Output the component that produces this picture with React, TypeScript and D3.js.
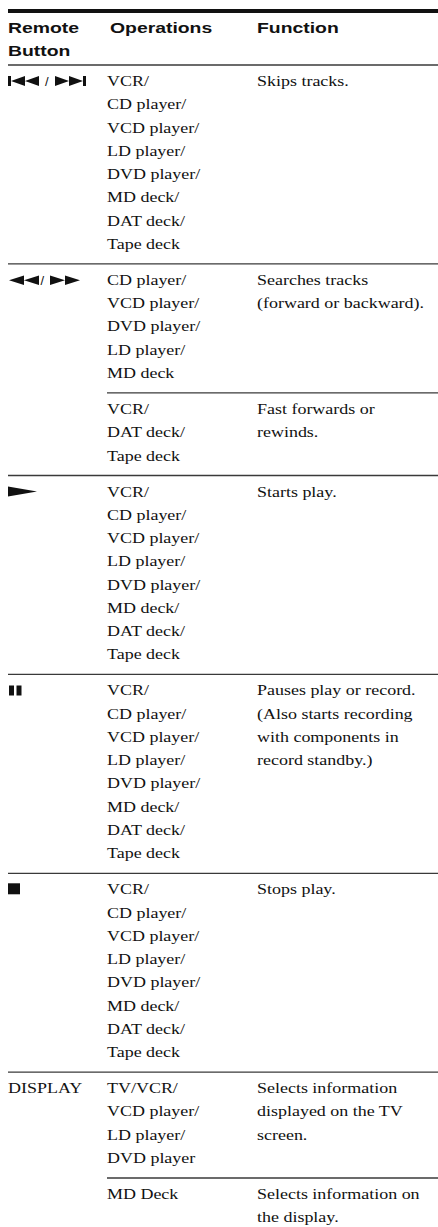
import React, { useRef, useEffect } from 'react';
import * as d3 from 'd3';

const WIDTH = 438;
const HEIGHT = 1227;

// table content
const headerLabels = [['Remote', 'Button'], ['Operations'], ['Function']];

const allDecks = ['VCR/', 'CD player/', 'VCD player/', 'LD player/', 'DVD player/', 'MD deck/', 'DAT deck/', 'Tape deck'];

const buttons = ['skip', 'search', '', 'play', 'pause', 'stop', 'DISPLAY', ''];

const operations = [
  allDecks,
  ['CD player/', 'VCD player/', 'DVD player/', 'LD player/', 'MD deck'],
  ['VCR/', 'DAT deck/', 'Tape deck'],
  allDecks,
  allDecks,
  allDecks,
  ['TV/VCR/', 'VCD player/', 'LD player/', 'DVD player'],
  ['MD Deck'],
];

const functions = [
  ['Skips tracks.'],
  ['Searches tracks', '(forward or backward).'],
  ['Fast forwards or', 'rewinds.'],
  ['Starts play.'],
  ['Pauses play or record.', '(Also starts recording', 'with components in', 'record standby.)'],
  ['Stops play.'],
  ['Selects information', 'displayed on the TV', 'screen.'],
  ['Selects information on', 'the display.'],
];

// layout
const LEFT = 8;
const TOP_RULE = 9;
const HEADER_RULE = 65;
const HEADER_BASELINES = [33, 56];
const PAD_TOP = 21;
const PAD_BOTTOM = 15;
const PITCH = 23.27;
const BODY_SIZE = 15.5;
const BODY_SX = 1.16;
const HEAD_SIZE = 15.5;
const HEAD_SX = 1.25;
const INK = '#111';
const RULE = '#3a3a3a';

const TableChart: React.FC = () => {
  const ref = useRef<SVGSVGElement | null>(null);

  useEffect(() => {
    if (!ref.current) return;
    const svg = d3.select(ref.current);
    svg.selectAll('*').remove();

    const colX = d3.scaleOrdinal<string, number>().domain(['button', 'ops', 'fn']).range([LEFT, 107, 257]);
    const headX = d3.scaleOrdinal<number, number>().domain([0, 1, 2]).range([LEFT, 110, 257]);

    const lineCounts = buttons.map((_, i) => Math.max(operations[i].length, functions[i].length));
    const rowHeights = lineCounts.map((n) => PAD_TOP + (n - 1) * PITCH + PAD_BOTTOM);
    const rowTops = [HEADER_RULE, ...Array.from(d3.cumsum(rowHeights), (h) => HEADER_RULE + h)];
    const baseline = (row: number, line: number) => rowTops[row] + PAD_TOP + line * PITCH;

    svg.append('rect').attr('width', WIDTH).attr('height', HEIGHT).attr('fill', '#fff');

    // thick top rule
    svg.append('rect').attr('x', LEFT).attr('y', TOP_RULE).attr('width', WIDTH - LEFT).attr('height', 4).attr('fill', INK);

    // header rule + row separators
    const rules = buttons.map((b, i) => ({ y: rowTops[i], x0: b ? LEFT : colX('ops') }));
    svg.append('g')
      .selectAll('line')
      .data(rules)
      .join('line')
      .attr('x1', (d) => d.x0)
      .attr('x2', WIDTH)
      .attr('y1', (d) => d.y)
      .attr('y2', (d) => d.y)
      .attr('stroke', RULE)
      .attr('stroke-width', 1.3);

    // header
    const headItems = headerLabels.flatMap((lines, c) => lines.map((t, j) => ({ t, x: headX(c), y: HEADER_BASELINES[j] })));
    svg.append('g')
      .attr('font-family', "'Liberation Sans', Arial, sans-serif")
      .attr('font-weight', 'bold')
      .attr('font-size', HEAD_SIZE)
      .attr('fill', INK)
      .selectAll('text')
      .data(headItems)
      .join('text')
      .attr('transform', (d) => `translate(${d.x},${d.y}) scale(${HEAD_SX},1)`)
      .text((d) => d.t);

    // body text
    const bodyItems = [
      ...operations.flatMap((lines, i) => lines.map((t, j) => ({ t, x: colX('ops'), y: baseline(i, j) }))),
      ...functions.flatMap((lines, i) => lines.map((t, j) => ({ t, x: colX('fn'), y: baseline(i, j) }))),
      ...buttons
        .map((b, i) => ({ t: b, x: colX('button'), y: baseline(i, 0) }))
        .filter((d) => d.t === 'DISPLAY'),
    ];
    svg.append('g')
      .attr('font-family', "'Liberation Serif', 'Times New Roman', serif")
      .attr('font-size', BODY_SIZE)
      .attr('fill', INK)
      .selectAll('text')
      .data(bodyItems)
      .join('text')
      .attr('transform', (d) => `translate(${d.x},${d.y}) scale(${BODY_SX},1)`)
      .text((d) => d.t);

    // button symbols
    const icons = svg.append('g').attr('fill', INK);
    const tri = (p: d3.Path, x0: number, x1: number, top: number, bot: number) => {
      // triangle with base at x0 and tip at x1
      p.moveTo(x0, top);
      p.lineTo(x1, (top + bot) / 2);
      p.lineTo(x0, bot);
      p.closePath();
    };

    buttons.forEach((b, i) => {
      const y = baseline(i, 0);
      const p = d3.path();
      if (b === 'skip') {
        const top = y - 10, bot = y;
        p.rect(8, top, 3, 10);
        tri(p, 25, 11, top, bot);
        tri(p, 39, 25, top, bot);
        tri(p, 55, 69, top, bot);
        tri(p, 69, 83, top, bot);
        p.rect(83, top, 3, 10);
        icons.append('text')
          .attr('x', 45).attr('y', y)
          .attr('font-family', "'Liberation Sans', Arial, sans-serif")
          .attr('font-size', 13)
          .text('/');
      } else if (b === 'search') {
        const top = y - 9.5, bot = y;
        tri(p, 24, 9, top, bot);
        tri(p, 39, 24, top, bot);
        tri(p, 50, 65, top, bot);
        tri(p, 65, 80, top, bot);
        icons.append('text')
          .attr('x', 40.5).attr('y', y)
          .attr('font-family', "'Liberation Sans', Arial, sans-serif")
          .attr('font-size', 13)
          .text('/');
      } else if (b === 'play') {
        tri(p, 8, 37, y - 10, y);
      } else if (b === 'pause') {
        p.rect(9, y - 10, 5, 10);
        p.rect(16.5, y - 10, 5, 10);
      } else if (b === 'stop') {
        p.rect(8, y - 11, 12, 11);
      }
      icons.append('path').attr('d', p.toString());
    });
  }, []);

  return (
    <svg
      ref={ref}
      width={WIDTH}
      height={HEIGHT}
      style={{ position: 'absolute', left: 0, top: 0, display: 'block' }}
    />
  );
};

export default function App() {
  return <TableChart />;
}
